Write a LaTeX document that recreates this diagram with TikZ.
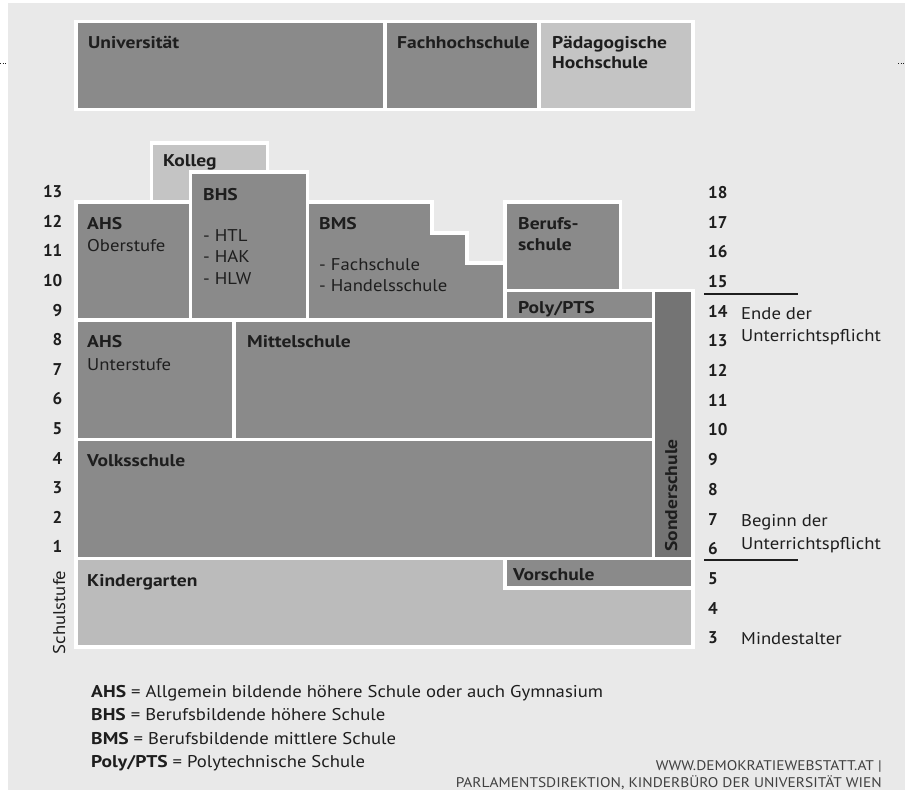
\documentclass[tikz,border=0pt]{standalone}
\usepackage{fontspec}
\setmainfont{PT Sans}[FakeStretch=1.10,BoldFeatures={FakeStretch=1.15}]
\newfontfamily\numfont{PT Sans}
\usepackage{tikz}

\definecolor{bggray}{HTML}{E9E9E9}
\definecolor{midgray}{HTML}{8A8A8A}
\definecolor{palegray}{HTML}{C4C4C4}
\definecolor{kigagray}{HTML}{BBBBBB}
\definecolor{sondergray}{HTML}{747474}
\definecolor{inkgray}{HTML}{1E1E1E}

\begin{document}
\begin{tikzpicture}[x=1pt,y=-1pt,
  schoolbox/.style={fill=midgray,draw=white,line width=3.5pt},
  palebox/.style={schoolbox,fill=palegray},
  lblb/.style={anchor=base west,inner sep=0pt,text=inkgray,font=\fontsize{17}{20}\selectfont\bfseries},
  lbl/.style={lblb,font=\fontsize{17}{20}\selectfont},
  stufennr/.style={lblb,font=\fontsize{17}{20}\numfont\bfseries},
  legend/.style={anchor=base west,inner sep=0pt,text=inkgray,font=\fontsize{17}{20}\selectfont},
  credit/.style={anchor=base east,inner sep=0pt,text=inkgray!85,font=\fontsize{14}{16}\selectfont}]
\useasboundingbox (0,0) rectangle (905,790);
\fill[white] (0,0) rectangle (905,790);
\fill[bggray] (8,3) rectangle (905,790);
\draw[dotted,line width=.7pt,inkgray] (0,63) -- (6,63);
\draw[dotted,line width=.7pt,inkgray] (898,63) -- (905,63);

% hochschulen
\draw[schoolbox] (76,21.5) rectangle (385,109.5);
\draw[schoolbox] (385,21.5) rectangle (539,109.5);
\draw[palebox] (539,21.5) rectangle (693,109.5);
\node[lblb] (uni) at (88,48) {Universität};
\node[lblb] (fh) at (397,48) {Fachhochschule};
\node[lblb] (paed1) at (552,48) {Pädagogische};
\node[lblb] (paed2) at (552,68.5) {Hochschule};

% oberstufe
\draw[palebox] (151.5,143) rectangle (267.5,205);
\draw[schoolbox] (190.5,172) rectangle (307.5,320);
\draw[schoolbox] (76,202) rectangle (190.5,320);
\draw[schoolbox] (307.5,202) -- (432,202) -- (432,233) -- (467,233) -- (467,263)
  -- (505,263) -- (505,320) -- (307.5,320) -- cycle;
\draw[schoolbox] (505,202) rectangle (620.5,290.5);
\draw[schoolbox] (505,290.5) rectangle (653.5,320);
\draw[schoolbox,fill=sondergray] (653.5,290.5) rectangle (693,558.5);
\node[lblb] (kolleg) at (163,166) {Kolleg};
\node[lblb] (bhs) at (203,200) {BHS};
\node[lbl] (htl) at (203,241) {- HTL};
\node[lbl] (hak) at (203,262.5) {- HAK};
\node[lbl] (hlw) at (203,284) {- HLW};
\node[lblb] (ahso) at (87,229) {AHS};
\node[lbl] (ahso2) at (87,251) {Oberstufe};
\node[lblb] (bms) at (319,229) {BMS};
\node[lbl] (fach) at (319,270.5) {- Fachschule};
\node[lbl] (handel) at (319,291.5) {- Handelsschule};
\node[lblb] (berufs1) at (518,229) {Berufs-};
\node[lblb] (berufs2) at (518,250) {schule};
\node[lblb] (poly) at (518,313) {Poly/PTS};

% unterstufe, volksschule
\draw[schoolbox] (76,320) rectangle (234,439.5);
\draw[schoolbox] (234,320) rectangle (653.5,439.5);
\draw[schoolbox] (76,439.5) rectangle (653.5,558.5);
\draw[schoolbox,fill=kigagray] (76,558.5) rectangle (693,647);
\draw[schoolbox] (505,558.5) rectangle (693,588);
\node[lblb] (ahsu) at (87,347.5) {AHS};
\node[lbl] (ahsu2) at (87,370) {Unterstufe};
\node[lblb] (mittel) at (247,347.5) {Mittelschule};
\node[lblb] (volks) at (87,466.5) {Volksschule};
\node[lblb] (kiga) at (87,586) {Kindergarten};
\node[lblb] (vor) at (513,580) {Vorschule};
\node[lblb,rotate=90,anchor=base] (sonder) at (677,495.5) {Sonderschule};

% stufen und alter
\foreach \n in {1,...,13}
  \node[stufennr,anchor=base east] (ln\n) at (62.5,{197.7+(13-\n)*29.6}) {\n};
\node[lbl,rotate=90,anchor=base] (stufe) at (65,612.5) {Schulstufe};
\foreach \n in {3,...,18}
  \node[stufennr] (rn\n) at (708,{198.3+(18-\n)*29.7}) {\n};
\draw[line width=1.3pt,inkgray] (704,294) -- (798,294);
\draw[line width=1.3pt,inkgray] (704,560) -- (798,560);
\node[lbl] (ende1) at (741,319) {Ende der};
\node[lbl] (ende2) at (741,341.5) {Unterrichtspflicht};
\node[lbl] (beginn1) at (741,526.5) {Beginn der};
\node[lbl] (beginn2) at (741,549) {Unterrichtspflicht};
\node[lbl] (minalter) at (741,644) {Mindestalter};

% legende
\node[legend] (leg1) at (91,697.3) {\textbf{AHS} = Allgemein bildende höhere Schule oder auch Gymnasium};
\node[legend] (leg2) at (91,720.7) {\textbf{BHS} = Berufsbildende höhere Schule};
\node[legend] (leg3) at (91,744) {\textbf{BMS} = Berufsbildende mittlere Schule};
\node[legend] (leg4) at (91,767) {\textbf{Poly/PTS} = Polytechnische Schule};
\node[credit] (web) at (882,770) {WWW.DEMOKRATIEWEBSTATT.AT |};
\node[credit] (parl) at (882,787.5) {PARLAMENTSDIREKTION, KINDERBÜRO DER UNIVERSITÄT WIEN};
\end{tikzpicture}
\end{document}
